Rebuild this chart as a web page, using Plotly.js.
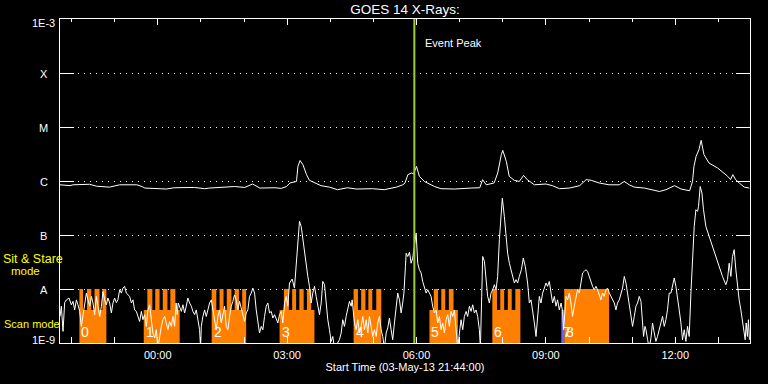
<!DOCTYPE html>
<html><head><meta charset="utf-8">
<script src="https://cdn.plot.ly/plotly-3.0.1.min.js"></script>
<style>html,body{margin:0;padding:0;background:#000}#chart{width:768px;height:384px}</style>
</head><body><div id="chart"></div>
<script>
// Time base: minutes after start time 2013-05-03 21:44:00 UT
const START_UTC = Date.UTC(2013, 4, 3, 21, 44, 0);
const SPAN_MIN = 960;

// GOES 14 long channel (1-8 A), W/m^2
const longT = [0,14,18,41,51,69,83,107,115,118,148,159,187,201,208,229,243,257,268,278,299,308,315,320,329,331,334,338,343,347,354,363,375,386,400,412,435,451,468,477,480,484,489,492,496,500,507,521,530,549,572,584,588,593,604,609,614,616,621,625,632,639,645,650,660,676,685,695,709,723,732,739,750,764,778,785,792,799,813,822,834,843,855,864,876,880,882,885,889,892,894,896,903,915,929,933,936,940,945,952,959];
const longF = [8.5e-7,8.2e-7,8.5e-7,8.7e-7,8.0e-7,7.7e-7,8.5e-7,8.5e-7,7.8e-7,7.4e-7,7.1e-7,7.5e-7,7.6e-7,7.2e-7,7.4e-7,7.6e-7,7.9e-7,7.6e-7,8.8e-7,7.4e-7,7.5e-7,7.3e-7,7.9e-7,9.2e-7,9.8e-7,1.86e-6,2.4e-6,2.0e-6,1.31e-6,1.03e-6,9.2e-7,8.2e-7,7.7e-7,6.9e-7,7.5e-7,7.1e-7,7.2e-7,6.9e-7,7.7e-7,8.5e-7,9.2e-7,1.31e-6,1.41e-6,1.36e-6,1.86e-6,1.22e-6,9.8e-7,7.9e-7,7.2e-7,7.1e-7,7.4e-7,7.5e-7,1.06e-6,8.5e-7,9.2e-7,1.41e-6,3.07e-6,3.7e-6,2.3e-6,1.22e-6,1.03e-6,9.8e-7,1.27e-6,1.06e-6,8.5e-7,8.8e-7,8.2e-7,7.2e-7,7.4e-7,8.2e-7,1.06e-6,1.03e-6,9.2e-7,8.5e-7,8.5e-7,9.8e-7,8.5e-7,7.7e-7,7.4e-7,6.9e-7,6.4e-7,6.9e-7,8.2e-7,7.1e-7,6.6e-7,9.8e-7,1.86e-6,2.86e-6,3.8e-6,5.65e-6,4.4e-6,3.07e-6,2.15e-6,1.74e-6,1.22e-6,1.06e-6,1.31e-6,1.06e-6,9.2e-7,7.7e-7,7.4e-7];

// GOES 14 short channel (0.5-4 A), W/m^2
const shortT = [0,1.9,4.2,6.5,8.9,12.5,15.8,18.1,20.4,22.8,25,27.4,29.7,32,34.3,36.7,38.9,41.3,43.7,45.9,48.2,50.6,52.8,55.2,57.6,59.8,62.1,64.5,66.7,69.1,71.5,73.7,76,78.4,80.6,83,85.4,87.6,89.9,92.3,96.9,99.3,101.5,103.8,106.2,108.4,110.8,113.2,115.4,117.8,120.1,122.3,124.7,127.1,129.3,131.7,134,136.2,138.6,141,143.2,145.6,147.9,150.1,152.5,154.9,157.1,159.5,161.5,163,164.5,166.4,168.8,171,173.4,175.7,177.9,180.3,182.7,184.9,187.3,189.6,191.8,194.2,195.6,196.6,198.8,201.2,203.5,205.8,208.1,210.5,212.7,215.1,217.4,219.7,222,224.4,226.6,229,231.3,233.6,235.9,238.3,240.5,242.9,245.2,247.5,249.8,252.2,254.4,256.8,259.1,261.4,263.7,266.1,268.3,270.7,273,275.3,277.6,280,282.2,284.6,286.9,289.2,291.5,293.9,296.1,298.5,300.8,303.1,305.4,307.8,310,312.4,314.7,317,319.3,323,326.2,328.6,330.9,333.2,335.6,337.8,340.2,342.5,344.8,347.1,349.5,351.7,354.1,356.4,358.7,361,363.4,365.6,368,370.3,372.6,374.9,377.3,379.5,381.9,388.8,391.2,393.4,395.8,398.1,400.4,402.7,405.1,406.5,409.7,412,414.3,416.6,419,421.2,423.6,426,428.2,430.5,432.9,435.1,437.5,439.9,442.1,444.4,446.8,449,451.4,453.8,456,458.3,460.7,462.9,465.3,467.7,469.9,472.3,474.6,476.8,478.5,480.6,481.6,483.8,486.2,488.5,490.8,495.5,497.7,500,502.4,504.6,507,509.4,511.6,514,516.3,518.5,520.9,523.3,525.5,527.9,530.2,532.4,534.8,537.2,539.4,541.8,544.1,546.3,548.7,551.1,553.3,555.7,558,560.3,562.6,565,567.2,569.6,571.9,574.2,576.5,578.9,581.1,583.5,584.9,586.7,588.1,590.5,592.8,595,597.4,599.7,602,604.3,606.7,608.9,611.3,613.6,615.4,618.2,620.6,622.8,625.2,627.5,629.8,632.2,634.5,636.7,639.1,641.9,644.6,647.4,650.6,653,655.3,657.6,660,662.3,664.5,666.9,669.2,671.5,673.9,676.2,678.4,680.8,683.2,685.4,687.8,690.1,692.3,694.7,697.1,699.3,700.7,702.6,704,706.2,708.6,710.9,713.1,715.5,717.9,720.1,722.5,724.8,727.1,729.4,731.8,734,736.4,738.7,741,743.3,745.7,747.9,750.3,752.6,754.8,757.2,759.6,761.8,764.2,766.6,768.8,771.2,773.5,775.7,778.1,780.5,782.7,785.1,787.4,789.6,792,794.3,796.6,799,801.3,803.6,805.9,808.3,810.5,811.9,813.9,815.3,817.5,819.9,822.2,824.4,826.8,829.1,831.3,833.7,836.1,838.3,840.7,843,845.2,847.6,850,852.2,854.6,856.9,859.2,861.5,863.9,866.1,868.5,870.8,873.1,875.4,877.8,880,882.4,884.7,887,888.4,890.7,893.1,895.3,898.6,903.2,907.8,912.5,917.1,921.7,926.4,928.7,931,933.4,935.6,938,940.3,942.6,944.9,947.3,949.5,951.9,953.3,954.7,956.4,957.8,959.2];
const shortF = [3.1e-9,4.8e-9,1.64e-9,5.6e-9,6.3e-9,6.8e-9,5.1e-9,5.9e-9,4.1e-9,6.3e-9,5.1e-9,3.85e-9,2.03e-9,3.35e-9,5.5e-9,8.4e-9,6.3e-9,4.8e-9,7.3e-9,5.5e-9,3.35e-9,7.3e-9,4.8e-9,3.1e-9,4.8e-9,9.0e-9,6.3e-9,5.1e-9,6.8e-9,5.5e-9,3.6e-9,5.5e-9,6.8e-9,5.6e-9,6.3e-9,9.7e-9,8.4e-9,1.04e-8,1.12e-8,8.4e-9,7.3e-9,5.5e-9,6.3e-9,4.1e-9,3.85e-9,3.1e-9,2.5e-9,3.85e-9,2.7e-9,3.35e-9,2.03e-9,4.1e-9,5.1e-9,2.7e-9,1.53e-9,1.24e-9,1.76e-9,8e-10,1.42e-9,2.03e-9,2.7e-9,3.1e-9,2.35e-9,1.76e-9,2.5e-9,2.03e-9,3.1e-9,2.03e-9,5.5e-9,3.35e-9,5.5e-9,4.8e-9,3.85e-9,5.1e-9,3.6e-9,4.8e-9,6.8e-9,5.5e-9,4.8e-9,3.85e-9,3.35e-9,4.1e-9,2.7e-9,1.76e-9,8e-10,2.03e-9,3.1e-9,4.1e-9,3.1e-9,4.45e-9,5.5e-9,6.3e-9,4.1e-9,2.7e-9,1.76e-9,3.1e-9,4.1e-9,2.35e-9,3.35e-9,4.8e-9,2.03e-9,1.76e-9,3.1e-9,4.8e-9,5.9e-9,7.8e-9,6.3e-9,4.1e-9,5.9e-9,4.45e-9,3.1e-9,2.5e-9,3.6e-9,4.1e-9,7.3e-9,8.4e-9,1.04e-8,8.4e-9,4.1e-9,2.35e-9,1.53e-9,2.03e-9,1.76e-9,3.1e-9,4.8e-9,5.5e-9,3.6e-9,3.85e-9,2.9e-9,3.35e-9,2.7e-9,2.35e-9,3.35e-9,3.85e-9,2.35e-9,5.5e-9,7.3e-9,4.8e-9,1.29e-8,1.53e-8,1.04e-8,3.0e-8,8.2e-8,1.79e-7,1.44e-7,8.2e-8,4.6e-8,2.6e-8,1.71e-8,1.12e-8,5.5e-9,8.4e-9,1.12e-8,7.3e-9,4.8e-9,3.35e-9,5.5e-9,1.38e-8,1.2e-8,5.5e-9,2.7e-9,1.76e-9,1.07e-9,1.32e-9,8e-10,1.15e-9,1.53e-9,2.7e-9,2.03e-9,3.1e-9,4.1e-9,5.9e-9,4.8e-9,6.3e-9,2.35e-9,1.76e-9,2.7e-9,1.53e-9,2.03e-9,3.1e-9,1.76e-9,2.7e-9,1.53e-9,3.1e-9,2.03e-9,1.32e-9,1.76e-9,1.32e-9,2.35e-9,3.1e-9,1.76e-9,1.32e-9,8e-10,1.53e-9,1.9e-9,2.9e-9,1.76e-9,1.15e-9,2.35e-9,4.1e-9,8.4e-9,6.3e-9,3.6e-9,5.5e-9,8.4e-9,2.6e-8,4.6e-8,4.0e-8,4.8e-8,3.0e-8,3.75e-8,1.09e-7,3.0e-8,2.28e-8,1.98e-8,1.38e-8,1.12e-8,8.4e-9,9.7e-9,8.4e-9,7.3e-9,4.8e-9,3.6e-9,4.1e-9,2.35e-9,3.1e-9,1.76e-9,2.35e-9,1.53e-9,2.7e-9,3.35e-9,2.03e-9,3.85e-9,3.1e-9,4.1e-9,1.76e-9,8e-10,1.53e-9,2.7e-9,1.76e-9,3.1e-9,3.85e-9,3.1e-9,4.8e-9,3.85e-9,5.1e-9,3.6e-9,4.1e-9,3.1e-9,1.76e-9,8e-10,7.3e-9,4.0e-8,3.25e-8,1.49e-8,7.3e-9,5.5e-9,8.4e-9,9.7e-9,1.2e-8,9.7e-9,1.71e-8,8.2e-8,2.55e-7,4.8e-7,2.21e-7,8.2e-8,4.6e-8,3.0e-8,2.28e-8,1.71e-8,1.29e-8,1.49e-8,1.29e-8,1.71e-8,2.28e-8,3.75e-8,2.6e-8,1.29e-8,5.5e-9,6.3e-9,4.1e-9,2.35e-9,1.32e-9,3.1e-9,7.3e-9,5.5e-9,8.4e-9,1.04e-8,1.29e-8,1.12e-8,1.38e-8,8.4e-9,5.5e-9,7.3e-9,4.8e-9,6.3e-9,4.1e-9,5.5e-9,3.85e-9,1.76e-9,5.5e-9,7.3e-9,6.3e-9,8.4e-9,5.5e-9,3.1e-9,4.8e-9,7.3e-9,9.7e-9,8.4e-9,1.29e-8,1.98e-8,2.12e-8,2.28e-8,2.12e-8,1.71e-8,1.29e-8,1.12e-8,9.7e-9,1.12e-8,9.7e-9,7.3e-9,6.3e-9,8.4e-9,7.3e-9,9.7e-9,1.04e-8,8.4e-9,7.3e-9,6.3e-9,5.5e-9,4.1e-9,5.5e-9,6.3e-9,8.4e-9,1.04e-8,1.71e-8,1.29e-8,8.4e-9,5.5e-9,3.1e-9,2.03e-9,3.1e-9,4.8e-9,5.5e-9,7.3e-9,5.9e-9,2.7e-9,1.32e-9,2.03e-9,1.76e-9,1.15e-9,8e-10,1.24e-9,2.35e-9,1.53e-9,1.07e-9,1.32e-9,1.76e-9,2.5e-9,3.1e-9,2.03e-9,2.7e-9,4.1e-9,8.4e-9,8.4e-9,1.12e-8,1.6e-8,1.12e-8,7.3e-9,4.1e-9,2.35e-9,1.15e-9,1.76e-9,1.07e-9,2.03e-9,1.32e-9,8.4e-9,3.0e-8,1.44e-7,2.94e-7,2.74e-7,3.4e-7,7.9e-7,6.0e-7,2.94e-7,1.44e-7,9.4e-8,6.15e-8,3.75e-8,2.6e-8,1.71e-8,1.2e-8,1.49e-8,3.0e-8,1.71e-8,4.0e-8,5.35e-8,2.28e-8,1.12e-8,6.3e-9,4.1e-9,2.7e-9,1.76e-9,1.15e-9,2.35e-9,1.32e-9,2.7e-9,1.15e-9];

// Observing mode timeline: 0 = none, 1 = scan mode, 2 = sit & stare mode
const modeT = [0,27,32,37.5,43.5,48,55,59,64.5,116.5,121.5,128.5,132.5,138.5,143,149.5,153.5,160.5,166.5,211,217.5,222,227.5,232,238.5,243,249,253.5,259,305.5,311.5,318.5,323,328.5,333,339,343.5,349.5,354,408.5,414.5,419,425,429,434.5,440,447,514,520,526,530.5,536,541,547.5,553.5,601.5,608,612.5,618,623,628.5,633.5,640.5,701.5,764,960];
const modeCode = [0,2,1,2,1,2,1,2,0,1,2,1,2,1,2,1,2,1,0,2,1,2,1,2,1,2,1,2,0,1,2,1,2,1,2,1,2,1,0,2,1,2,1,2,1,2,0,1,2,1,2,1,2,1,0,2,1,2,1,2,1,2,0,2,0,0];
const blueT = [0,697.5,701.5,960];
const blueCode = [0,1,0,0];
const segLabels = ['0','1','2','3','4','5','6','7','8'];
const segStartT = [27,116.5,211,305.5,408.5,514,601.5,697.5,701.5];

const levelLabels = ['1E-9','A','B','C','M','X','1E-3'];
const levelExp = [-9,-8,-7,-6,-5,-4,-3];
const EVENT_T = 493;

function toDate(m){
  const d = new Date(START_UTC + Math.round(m*60000));
  return d.toISOString().replace('T',' ').slice(0,19);
}
const MODE_HEIGHT = {0:1e-12, 1:4.1e-9, 2:1e-8};
const FONT = 'Liberation Sans, Arial, sans-serif';

const base = {x:[toDate(0),toDate(SPAN_MIN)], y:[1e-12,1e-12], mode:'lines', line:{width:0}, hoverinfo:'skip', showlegend:false};
const traces = [
  Object.assign({}, base),
  {x:modeT.map(toDate), y:modeCode.map(c=>MODE_HEIGHT[c]), mode:'lines', line:{shape:'hv', width:0}, fill:'tonexty', fillcolor:'#ff8000', hoverinfo:'skip', showlegend:false},
  Object.assign({}, base),
  {x:blueT.map(toDate), y:blueCode.map(c=>MODE_HEIGHT[c]), mode:'lines', line:{shape:'hv', width:0}, fill:'tonexty', fillcolor:'#6464ff', hoverinfo:'skip', showlegend:false},
  {x:shortT.map(toDate), y:shortF, mode:'lines', line:{color:'#ffffff', width:1}, showlegend:false},
  {x:longT.map(toDate), y:longF, mode:'lines', line:{color:'#ffffff', width:1}, showlegend:false},
  {x:[toDate(0)], y:[1e-12], xaxis:'x2', yaxis:'y', mode:'markers', marker:{opacity:0}, hoverinfo:'skip', showlegend:false}
];

const annotations = [];
levelLabels.forEach((t,i)=>{
  const e = levelExp[i];
  annotations.push({text:t, xref:'paper', x:-0.0232, yref:'y', y:e, xanchor:'center', yanchor:'middle',
    yshift: e===-3 ? -4 : (e===-9 ? 3 : -1), showarrow:false, font:{family:FONT, size:11, color:'#ffffff'}});
});
segLabels.forEach((t,i)=>{
  annotations.push({text:t, xref:'x', x:toDate(segStartT[i]), yref:'paper', y:0.035, xanchor:'left', yanchor:'middle',
    showarrow:false, font:{family:FONT, size:14, color:'#ffffff'}});
});
annotations.push({text:'Event Peak', xref:'x', x:toDate(EVENT_T), yref:'paper', y:0.927, xanchor:'left', yanchor:'middle', xshift:9, showarrow:false, font:{family:FONT, size:11, color:'#ffffff'}});
annotations.push({text:'Sit & Stare', xref:'paper', x:-0.0855, yref:'paper', y:0.260, xanchor:'left', yanchor:'middle', showarrow:false, font:{family:FONT, size:12.5, color:'#ffff00'}});
annotations.push({text:'mode', xref:'paper', x:-0.0736, yref:'paper', y:0.222, xanchor:'left', yanchor:'middle', showarrow:false, font:{family:FONT, size:11.5, color:'#ffff00'}});
annotations.push({text:'Scan mode', xref:'paper', x:-0.0845, yref:'paper', y:0.0596, xanchor:'left', yanchor:'middle', showarrow:false, font:{family:FONT, size:11, color:'#ffff00'}});

const xr = [toDate(0), toDate(SPAN_MIN)];
const layout = {
  width:768, height:384,
  margin:{l:60, r:18, t:19, b:41, pad:0},
  paper_bgcolor:'#000000', plot_bgcolor:'#000000',
  showlegend:false,
  title:{text:'GOES 14 X-Rays:', x:0.5, xref:'paper', xanchor:'center', y:1-9.5/384, yref:'container', yanchor:'middle', font:{family:FONT, size:13.5, color:'#ffffff'}},
  xaxis:{type:'date', range:xr, tickformat:'%H:%M', tick0:'2013-05-04 00:00:00', dtick:10800000,
    ticks:'inside', ticklen:6, tickwidth:1, tickcolor:'#ffffff', ticklabelstandoff:2,
    minor:{tick0:'2013-05-04 00:00:00', dtick:3600000, ticks:'inside', ticklen:6, tickwidth:1, tickcolor:'#ffffff', showgrid:false},
    showline:true, linecolor:'#ffffff', linewidth:1, mirror:true, showgrid:false, zeroline:false,
    tickfont:{family:FONT, size:11, color:'#ffffff'},
    title:{text:'Start Time (03-May-13 21:44:00)', font:{family:FONT, size:11, color:'#ffffff'}, standoff:2},
    automargin:false, fixedrange:true},
  xaxis2:{type:'date', range:xr, overlaying:'x', side:'top', anchor:'y', tick0:'2013-05-04 00:00:00', dtick:10800000,
    ticks:'inside', ticklen:6, tickwidth:1, tickcolor:'#ffffff',
    minor:{tick0:'2013-05-04 00:00:00', dtick:3600000, ticks:'inside', ticklen:3, tickwidth:1, tickcolor:'#ffffff', showgrid:false},
    showticklabels:false, showline:false, showgrid:false, zeroline:false, automargin:false, fixedrange:true},
  yaxis:{type:'log', range:[-9,-3], dtick:1, ticks:'inside', ticklen:14, tickwidth:1, tickcolor:'#ffffff',
    showticklabels:false, showline:true, linecolor:'#ffffff', linewidth:1, mirror:'ticks',
    showgrid:true, gridcolor:'#ffffff', gridwidth:1, griddash:'1px,5px', zeroline:false, automargin:false, fixedrange:true},
  shapes:[{type:'line', xref:'x', yref:'paper', x0:toDate(EVENT_T), x1:toDate(EVENT_T), y0:0, y1:1, line:{color:'#9acd32', width:2}}],
  annotations: annotations
};
Plotly.newPlot('chart', traces, layout, {staticPlot:true, displayModeBar:false});
</script></body></html>
